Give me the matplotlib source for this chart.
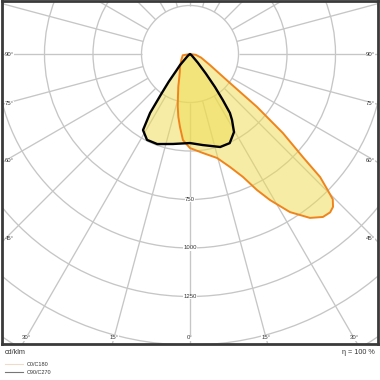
import numpy as np
import matplotlib
matplotlib.use("Agg")
import matplotlib.pyplot as plt
from matplotlib.patches import Circle, Polygon

plt.rcParams['font.family'] = ['Liberation Sans', 'DejaVu Sans']

# ---- data (gamma in degrees from nadir, intensity in cd/klm) ----
c0_gamma = [0, 7.5, 14.6, 19.5, 23.3, 26.2, 28.7, 32.3, 36.2, 39.2, 41.5, 43.1, 44.5, 45.3, 46.6, 47.6, 49.6, 51.7, 54, 61, 72, 82, 90]
c0_int = [485, 515, 554, 618, 690, 781, 858, 964, 1047, 1084, 1090, 1079, 1050, 1000, 923, 788, 629, 440, 255, 118, 60, 30, 0]
c180_gamma = [0, 4.7, 7.8, 10.5, 13.1, 16, 19.7, 25, 30, 38.2, 55, 80, 90]
c180_int = [485, 445, 380, 330, 279, 225, 179, 130, 105, 83, 55, 38, 0]
c90_gamma = [0, 8, 18, 24, 29.4, 32.5, 34.1, 35.5, 37.1, 39, 42, 50, 90]
c90_int = [459, 474, 504, 503, 462, 403, 367, 290, 213, 130, 60, 12, 0]
c270_gamma = [0, 10.7, 20, 26.6, 31.7, 34.1, 35.8, 37.5, 39.5, 42, 50, 90]
c270_int = [459, 472, 494, 495, 461, 367, 250, 180, 110, 77, 15, 0]

ring_values = [250, 500, 750, 1000, 1250, 1500, 1750]
ring_labels = ["750", "1000", "1250"]
side_angles = [90, 75, 60, 45]
bottom_angles = [30, 15, 0]
legend_labels = ["C0/C180", "C90/C270"]

W = H = 380
fig = plt.figure(figsize=(3.8, 3.8), dpi=100)
ax_l, ax_r, ax_t, ax_b = 1.5, 378, 1, 344
ax = fig.add_axes([ax_l / W, 1 - ax_b / H, (ax_r - ax_l) / W, (ax_b - ax_t) / H])
cx, cy = 190, 54
k = 0.194  # px per cd
ax.set_xlim((ax_l - cx) / k, (ax_r - cx) / k)
ax.set_ylim(-(ax_b - cy) / k, (cy - ax_t) / k)
ax.set_xticks([]); ax.set_yticks([])
for s in ax.spines.values():
    s.set_color('#3a3a3a'); s.set_linewidth(2.0)

grid_c = '#c6c6c6'
for r in ring_values:
    ax.add_patch(Circle((0, 0), r, fill=False, ec=grid_c, lw=0.95, zorder=1))
for a in range(0, 360, 15):
    t = np.deg2rad(a)
    ax.plot([250 * np.sin(t), 2200 * np.sin(t)], [-250 * np.cos(t), -2200 * np.cos(t)],
            color=grid_c, lw=0.95, zorder=1, solid_capstyle='butt')

def to_xy(gam, inten, sign):
    g = np.deg2rad(np.asarray(gam, float))
    i = np.asarray(inten, float)
    return sign * i * np.sin(g), -i * np.cos(g)

fill_c = '#efdb4f'
# orange curve: C180 (left) from 90 down to 0, then C0 (right) 0 -> 90
lx, ly = to_xy(c180_gamma[::-1], c180_int[::-1], -1)
rx, ry = to_xy(c0_gamma, c0_int, 1)
ox = np.concatenate([lx, rx[1:]]); oy = np.concatenate([ly, ry[1:]])
# black curve: C270 (left) then C90 (right)
blx, bly = to_xy(c270_gamma[::-1], c270_int[::-1], -1)
brx, bry = to_xy(c90_gamma, c90_int, 1)
bx = np.concatenate([blx, brx[1:]]); by = np.concatenate([bly, bry[1:]])

ax.add_patch(Polygon(np.column_stack([ox, oy]), closed=True, fc=fill_c, ec='none', alpha=0.5, zorder=2))
ax.add_patch(Polygon(np.column_stack([bx, by]), closed=True, fc=fill_c, ec='none', alpha=0.5, zorder=2))
ax.add_patch(Polygon(np.column_stack([ox, oy]), closed=True, fill=False, ec='#f0841c', lw=1.4, zorder=3, joinstyle='round'))
ax.add_patch(Polygon(np.column_stack([bx, by]), closed=True, fill=False, ec='black', lw=1.7, zorder=4, joinstyle='round'))

tc = '#333333'
fs = 4.3
bb = dict(facecolor='white', edgecolor='none', pad=0.2)
for lab in ring_labels:
    v = float(lab)
    ax.text(0, -v, lab, ha='center', va='center', fontsize=fs, color=tc, bbox=bb, zorder=5)

x_left = (5 - cx) / k
x_right = (375 - cx) / k
for a in side_angles:
    t = np.deg2rad(a)
    yy = -abs(x_left) / np.tan(t) if a != 90 else 0
    ax.text(x_left, yy, f"{a}°", ha='left', va='center', fontsize=fs, color=tc, bbox=bb, zorder=5)
    ax.text(x_right, yy, f"{a}°", ha='right', va='center', fontsize=fs, color=tc, bbox=bb, zorder=5)
y_bot = -(338 - cy) / k
for a in bottom_angles:
    xx = abs(y_bot) * np.tan(np.deg2rad(a))
    ax.text(-xx, y_bot, f"{a}°", ha='center', va='center', fontsize=fs, color=tc, bbox=bb, zorder=5)
    if a != 0:
        ax.text(xx, y_bot, f"{a}°", ha='center', va='center', fontsize=fs, color=tc, bbox=bb, zorder=5)

fig.text(5 / W, 1 - 352 / H, "cd/klm", ha='left', va='center', fontsize=5.2, color=tc)
fig.text(375 / W, 1 - 352.5 / H, "η = 100 %", ha='right', va='center', fontsize=5.2, color=tc)
leg_colors = ['#eedccb', '#777777']
for i, (lab, c) in enumerate(zip(legend_labels, leg_colors)):
    yy = 1 - (364.3 + 8 * i) / H
    fig.add_artist(plt.Line2D([5 / W, 23 / W], [yy, yy], color=c, lw=0.8))
    fig.text(27 / W, yy, lab, ha='left', va='center', fontsize=4, color=tc)

fig.savefig("out.png", dpi=100)
